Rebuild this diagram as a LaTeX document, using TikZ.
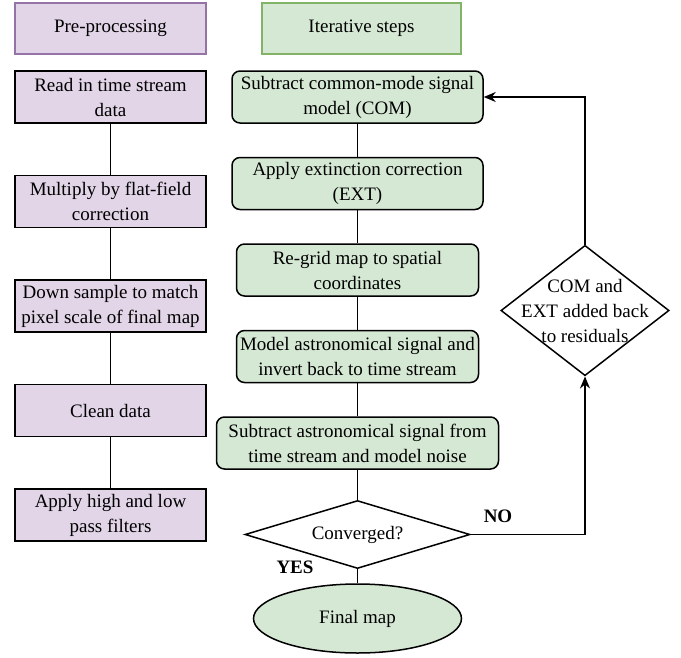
\documentclass[tikz,border=0pt]{standalone}
\usepackage{fontspec}
\setmainfont{Liberation Serif}
\usepackage{tikz}
\usetikzlibrary{shapes.geometric, arrows.meta, positioning}
\definecolor{preFill}{HTML}{E1D5E7}
\definecolor{preLine}{HTML}{9673A6}
\definecolor{iterFill}{HTML}{D5E8D4}
\definecolor{iterLine}{HTML}{82B366}

\begin{document}
\begin{tikzpicture}[
    x=1pt, y=1pt,
    font=\fontsize{19}{25}\selectfont,
    node distance=33pt,
    prehead/.style={rectangle, draw=preLine, line width=2pt, fill=preFill, minimum width=191pt, minimum height=51pt, align=center},
    iterhead/.style={rectangle, draw=iterLine, line width=2pt, fill=iterFill, minimum width=199pt, minimum height=51pt, align=center},
    prebox/.style={rectangle, draw=black, line width=1.5pt, fill=preFill, minimum width=191pt, minimum height=52pt, inner sep=2pt, align=center},
    iterbox/.style={rectangle, rounded corners=8pt, draw=black, line width=1.5pt, fill=iterFill, minimum height=52pt, inner sep=2pt, align=center},
    decision/.style={diamond, draw=black, line width=1.5pt, fill=white, inner sep=0pt, align=center},
    endstate/.style={ellipse, draw=black, line width=1.5pt, fill=iterFill, minimum width=208pt, minimum height=69pt},
    linkstyle/.style={line width=1.5pt, black},
    arrowstyle/.style={-{Stealth[length=12pt, width=10pt]}, line width=1.5pt, black},
    answer/.style={font=\fontsize{19}{25}\selectfont\bfseries}
]
\useasboundingbox (0,0) rectangle (681,-657);

% column headers
\node[prehead] (hPre) at (110.5,-28.5) {Pre-processing};
\node[iterhead] (hIter) at (361.5,-28.5) {Iterative steps};

% pre-processing column
\node[prebox] (P1) at (110.5,-97) {Read in time stream\\data};
\node[prebox, below=51pt of P1] (P2) {Multiply by flat-field\\correction};
\node[prebox, below=51pt of P2] (P3) {Down sample to match\\pixel scale of final map};
\node[prebox, below=51pt of P3] (P4) {Clean data};
\node[prebox, below=51pt of P4] (P5) {Apply high and low\\pass filters};

% iterative column
\node[iterbox, minimum width=251pt] (G1) at (357.5,-97) {Subtract common-mode signal\\model (COM)};
\node[iterbox, minimum width=251pt, below=of G1] (G2) {Apply extinction correction\\(EXT)};
\node[iterbox, minimum width=242pt, below=of G2] (G3) {Re-grid map to spatial\\coordinates};
\node[iterbox, minimum width=242pt, below=of G3] (G4) {Model astronomical signal and\\invert back to time stream};
\node[iterbox, minimum width=282pt, below=of G4] (G5) {Subtract astronomical signal from\\time stream and model noise};
\node[decision, aspect=3.3, minimum width=225pt, minimum height=68pt, below=30pt of G5] (conv) {Converged?};
\node[endstate, below=14pt of conv] (final) {Final map};

% feedback loop
\node[decision, aspect=1.29, inner sep=-9pt] (addback) at (585,-310.5) {COM and\\EXT added back\\to residuals};

\node[answer] (no) at (498,-516) {NO};
\node[answer] (yes) at (295,-567) {YES};

\draw[linkstyle] (P1) -- (P2);
\draw[linkstyle] (P2) -- (P3);
\draw[linkstyle] (P3) -- (P4);
\draw[linkstyle] (P4) -- (P5);

\draw[linkstyle] (G1) -- (G2);
\draw[linkstyle] (G2) -- (G3);
\draw[linkstyle] (G3) -- (G4);
\draw[linkstyle] (G4) -- (G5);
\draw[linkstyle] (G5) -- (conv);
\draw[linkstyle] (conv) -- (final);

\draw[arrowstyle] (conv.east) -| (addback.south);
\draw[arrowstyle] (addback.north) |- (G1.east);
\end{tikzpicture}
\end{document}
